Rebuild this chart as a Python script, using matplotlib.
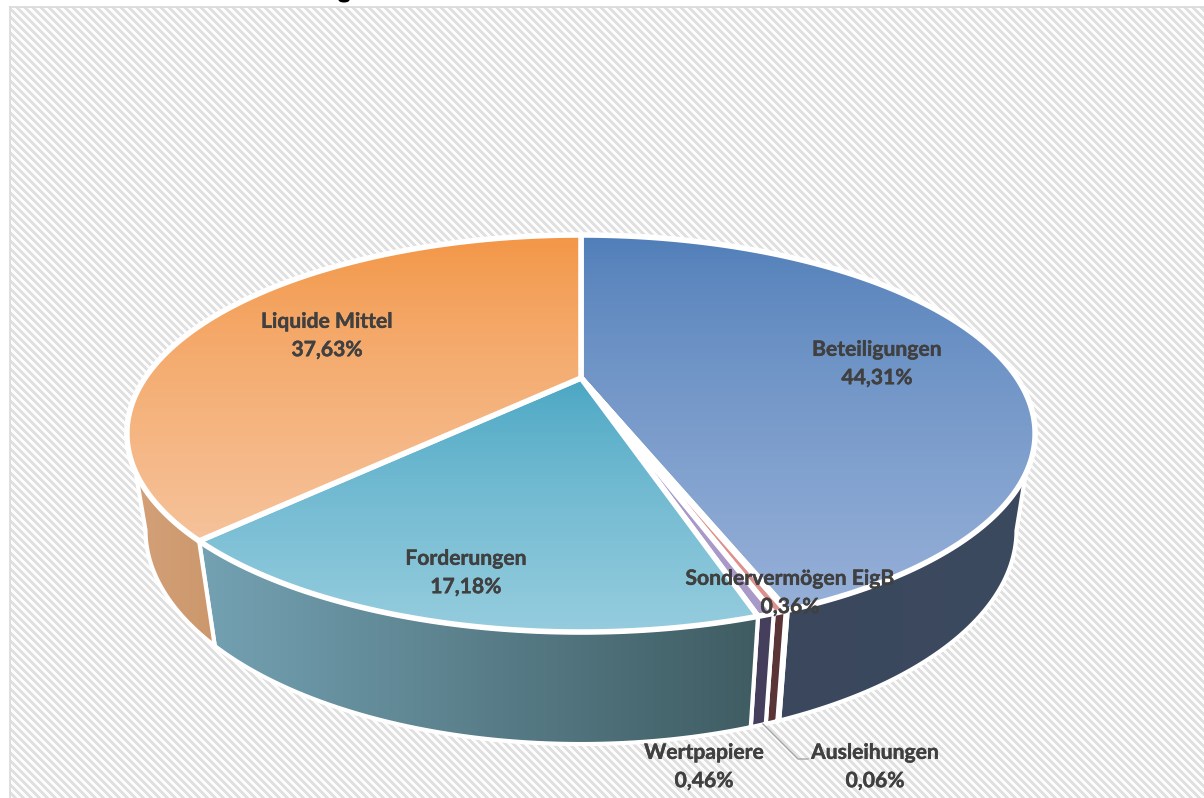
import numpy as np
import matplotlib
matplotlib.use("Agg")
import matplotlib.pyplot as plt
import matplotlib.patheffects as pe
from matplotlib.patches import Polygon, Rectangle, Ellipse
from matplotlib.colors import LinearSegmentedColormap

# ---- data ----
categories = ["Beteiligungen", "Ausleihungen", "Sondervermögen EigB", "Wertpapiere", "Forderungen", "Liquide Mittel"]
shares = [44.31, 0.06, 0.36, 0.46, 17.18, 37.63]
share_labels = ["44,31%", "0,06%", "0,36%", "0,46%", "17,18%", "37,63%"]

top_colors = [("#4f7db8", "#96b0d8"), ("#c0504d", "#c0504d"), ("#dc918c", "#dc918c"),
              ("#a797c9", "#a99ac9"), ("#47a5c2", "#95ccde"), ("#f39544", "#f6c29a")]
side_colors = [("#3a475c", "#3c4a60"), ("#5a3436", "#5a3436"), ("#5a3436", "#5a3436"),
               ("#453f5c", "#453f5c"), ("#74a2b3", "#3f5c62"), ("#d3a078", "#cc976b")]
label_pos = [(877, 364), (875, 767), (790, 593), (704, 767), (466, 573), (327, 336)]

# ---- projection of the tilted disc onto the page ----
CX, CY, K, A, B = 581.0, 378.0, 0.2796, 436.0, 183.0


def top_rim(theta):
    u, v = np.sin(theta), -np.cos(theta)
    w = 1 - K * v
    return CX + A * u / w, CY + B * v / w


def bottom_rim(theta):
    x, y = top_rim(theta)
    return CX + (x - CX) * 0.959, y + 105 + (y - 541) * 0.077


W, H = 1204, 798
fig = plt.figure(figsize=(W / 100, H / 100), dpi=100)
ax = fig.add_axes([0, 0, 1, 1])
ax.set_xlim(0, W)
ax.set_ylim(H, 0)
ax.axis("off")

# background stripes
yy, xx = np.mgrid[0:H, 0:W]
bg = np.where(((xx - yy) % 8) < 4, 0.875, 0.985)
ax.imshow(bg, cmap="gray", vmin=0, vmax=1, extent=(0, W, H, 0), aspect="auto", zorder=0,
          interpolation="bilinear")
ax.add_patch(Rectangle((0, 0), W, 7, fc="white", ec="none", zorder=1))
ax.add_patch(Rectangle((0, 0), 10, H, fc="white", ec="none", zorder=1))
ax.plot([10, 10], [H, 7], color="#d9d9d9", lw=1.2, zorder=2)
ax.plot([10, W], [7, 7], color="#d9d9d9", lw=1.2, zorder=2)


def gradient(poly, colors, vertical, z, lw=4.0):
    cmap = LinearSegmentedColormap.from_list("g", colors)
    xs, ys = poly[:, 0], poly[:, 1]
    g = np.linspace(0, 1, 256)
    arr = (g ** 0.75)[:, None] if vertical else g[None, :]
    im = ax.imshow(arr, cmap=cmap, vmin=0, vmax=1, aspect="auto", zorder=z,
                   extent=(xs.min(), xs.max(), ys.max(), ys.min()), interpolation="bilinear")
    patch = Polygon(poly, closed=True, transform=ax.transData, fc="none", ec="none")
    ax.add_patch(patch)
    im.set_clip_path(patch)
    ax.add_patch(Polygon(poly, closed=True, fc="none", ec="white", lw=lw, zorder=z + 0.1,
                         joinstyle="round"))


edges = np.cumsum([0] + shares) / sum(shares) * 2 * np.pi
for i in range(len(shares)):
    t = np.linspace(edges[i], edges[i + 1], 400)
    v = -np.cos(t)
    tx, ty = top_rim(t)
    bx, by = bottom_rim(t)
    upper = v > 0.45   # top rim visible above the wall
    lower = v > K      # lower rim up to its widest point
    if upper.any():
        side = np.column_stack([np.r_[tx[upper], bx[lower][::-1]], np.r_[ty[upper], by[lower][::-1]]])
        gradient(side, side_colors[i], False, 3 + i * 0.2, lw=3.0)

for i in range(len(shares)):
    t = np.linspace(edges[i], edges[i + 1], 300)
    tx, ty = top_rim(t)
    poly = np.column_stack([np.r_[CX, tx], np.r_[CY, ty]])
    gradient(poly, top_colors[i], True, 6 + i * 0.2)

# leader line of the small slice
ax.plot([763, 798, 808], [724, 759, 759], color="#a6a6a6", lw=1.0, zorder=8)

for name, val, (x, y) in zip(categories, share_labels, label_pos):
    ax.text(x, y, f"{name}\n{val}", ha="center", va="center", family=["Lato", "DejaVu Sans"],
            fontweight="bold", fontsize=15.2, color="#404040", linespacing=1.52, zorder=9,
            path_effects=[pe.withStroke(linewidth=0.3, foreground="#404040")])

# foot of a title letter that the crop of the page cuts off
ax.add_patch(Ellipse((344, 0), 11, 5, fc="black", ec="none", zorder=9))

fig.savefig("out.png", dpi=100)
